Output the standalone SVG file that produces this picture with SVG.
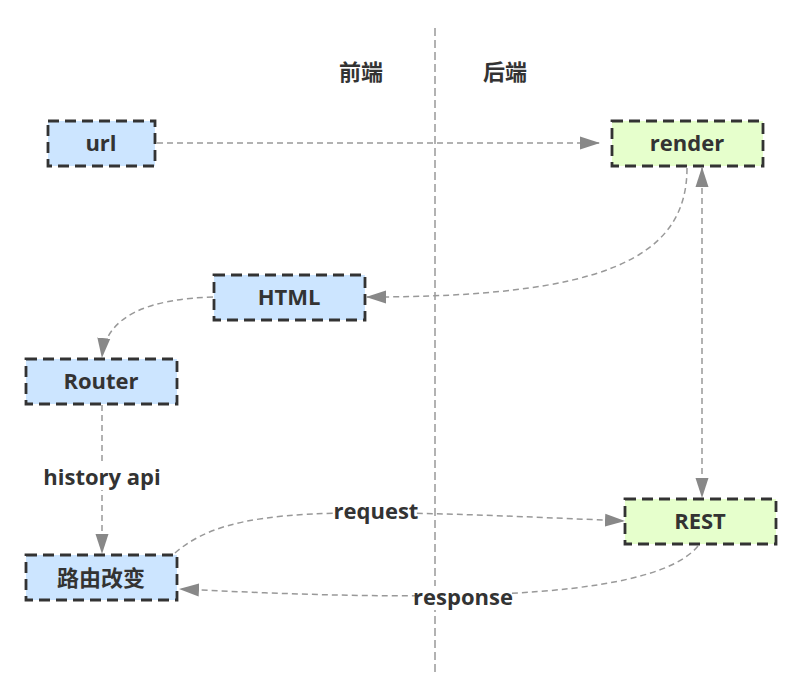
<svg xmlns="http://www.w3.org/2000/svg" width="802" height="689" viewBox="0 0 802 689">
<defs>
<marker id="arr" markerUnits="userSpaceOnUse" markerWidth="20" markerHeight="14" refX="19" refY="6.5" orient="auto-start-reverse" viewBox="0 0 20 13">
<path d="M0,0 L20,6.5 L0,13 z" fill="#888"/>
</marker>
<style>
.box{stroke:#333;stroke-width:2.8;stroke-dasharray:11,6}
.fe{fill:#cce5ff}
.be{fill:#e6ffcc}
.t{font-family:'Open Sans','Noto Sans CJK SC',sans-serif;font-weight:bold;font-size:22px;fill:#333;text-anchor:middle;dominant-baseline:central}
.cn{font-family:'Noto Sans CJK SC',sans-serif;font-size:22px}
.e{fill:none;stroke:#999;stroke-width:1.5;stroke-dasharray:6,4}
.lb{fill:#fff}
</style>
</defs>
<rect width="802" height="689" fill="#fff"/>
<line x1="435" y1="28" x2="435" y2="676" stroke="#aaa" stroke-width="1.8" stroke-dasharray="8,4"/>
<text class="t cn" x="361" y="70">前端</text>
<text class="t cn" x="505" y="70">后端</text>
<g id="connectors">
<path class="e" d="M157,143 L599,143" marker-end="url(#arr)"/>
<path class="e" d="M687,168 C687,260 600,297 367,297" marker-end="url(#arr)"/>
<path class="e" d="M702,168 L702,497" marker-start="url(#arr)" marker-end="url(#arr)"/>
<path class="e" d="M213,297 C150,299 106,315 102,357" marker-end="url(#arr)"/>
<path class="e" d="M102,405 L102,553" marker-end="url(#arr)"/>
<path class="e" d="M175,553 C230,505 330,508 624,521" marker-end="url(#arr)"/>
<path class="e" d="M698,546 C650,605 400,600 180,589" marker-end="url(#arr)"/>
<rect class="lb" x="42" y="464" width="120" height="26"/>
<text class="t" x="102" y="476">history api</text>
<rect class="lb" x="336" y="500" width="80" height="24"/>
<text class="t" x="376" y="510">request</text>
<rect class="lb" x="415" y="586" width="97" height="24"/>
<text class="t" x="463" y="596">response</text>
</g>
<g id="url"><rect class="box fe" x="48" y="121" width="107" height="45"/><text class="t" x="101" y="142">url</text></g>
<g id="render"><rect class="box be" x="612" y="121" width="151" height="45"/><text class="t" x="687" y="142">render</text></g>
<g id="html"><rect class="box fe" x="214" y="275" width="151" height="45"/><text class="t" x="289" y="296">HTML</text></g>
<g id="router"><rect class="box fe" x="26" y="359" width="151" height="45"/><text class="t" x="101" y="380">Router</text></g>
<g id="rest"><rect class="box be" x="625" y="499" width="151" height="45"/><text class="t" x="700" y="520">REST</text></g>
<g id="routechange"><rect class="box fe" x="26" y="555" width="151" height="45"/><text class="t cn" x="101" y="576">路由改变</text></g>
</svg>
